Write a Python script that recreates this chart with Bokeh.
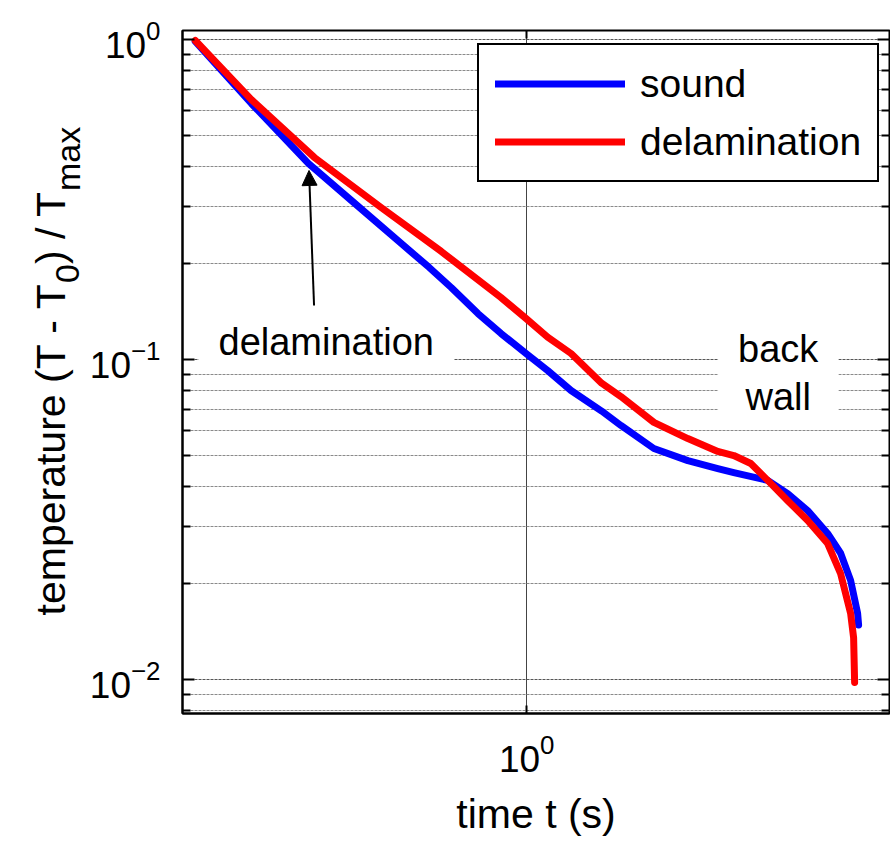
import math
from bokeh.plotting import figure
from bokeh.layouts import row
from bokeh.models import (Range1d, FixedTicker, LogTickFormatter, LogAxis, Legend,
                          LegendItem, Label, Arrow, NormalHead, CustomJSTickFormatter)
from bokeh.embed import file_html
from bokeh.resources import INLINE

# ---------------- data ----------------
sound_t = [0.148, 0.2045, 0.284, 0.364, 0.485, 0.570, 0.647, 0.755, 0.862, 0.996, 1.128,
           1.291, 1.540, 1.721, 2.081, 2.531, 3.008, 3.299, 4.011, 4.501, 5.050, 5.666, 6.106,
           6.468, 6.734, 6.773]
sound_v = [0.986, 0.631, 0.410, 0.314, 0.2305, 0.1939, 0.1679, 0.1392, 0.1206, 0.1044, 0.0924,
           0.0800, 0.0690, 0.0622, 0.0527, 0.0483, 0.0456, 0.0443, 0.0419, 0.0381, 0.0337, 0.0286,
           0.0248, 0.0204, 0.0161, 0.0148]

delam_t = [0.148, 0.2045, 0.294, 0.432, 0.611, 0.862, 0.996, 1.128, 1.291, 1.540, 1.721, 2.081,
           2.531, 3.008, 3.299, 3.638, 4.011, 4.501, 5.050, 5.666, 6.106, 6.468, 6.581, 6.619]
delam_v = [0.993, 0.649, 0.428, 0.2985, 0.2176, 0.1562, 0.1343, 0.1174, 0.1044, 0.0843, 0.0766,
           0.0636, 0.0566, 0.0516, 0.0501, 0.0473, 0.0419, 0.0362, 0.0314, 0.0266, 0.0214, 0.0161,
           0.0135, 0.00979]

series_names = ["sound", "delamination"]
x_major_ticks = [1.0]
y_major_ticks = [0.01, 0.1, 1.0]
y_minor_ticks = [0.002, 0.003, 0.004, 0.005, 0.006, 0.007, 0.008, 0.009,
                 0.02, 0.03, 0.04, 0.05, 0.06, 0.07, 0.08, 0.09,
                 0.2, 0.3, 0.4, 0.5, 0.6, 0.7, 0.8, 0.9]

# ---------------- styling ----------------
FONT = "Liberation Sans"
BLUE = "#0000ff"
RED = "#ff0000"
SIDE_W = 86

yrange = Range1d(0.007828, 1.0669)

p = figure(width=890 - SIDE_W, height=842, x_axis_type="log", y_axis_type="log",
           x_range=Range1d(0.1375, 8.093), y_range=yrange,
           output_backend="svg", toolbar_location=None,
           min_border_left=181 - SIDE_W, min_border_right=1, min_border_top=30,
           min_border_bottom=129)

p.background_fill_color = "white"
p.border_fill_color = "white"
p.outline_line_color = "black"
p.outline_line_width = 2
p.outline_line_alpha = 1.0

xticker = FixedTicker(ticks=x_major_ticks, minor_ticks=[])
yticker = FixedTicker(ticks=y_major_ticks, minor_ticks=y_minor_ticks)

# bottom axis
xa = p.xaxis[0]
xa.ticker = xticker
xa.formatter = LogTickFormatter()
xa.major_label_text_font = FONT
xa.major_label_text_font_size = "37px"
xa.major_label_text_color = "black"
xa.major_label_standoff = 20
xa.major_tick_in = 8
xa.major_tick_out = 0
xa.minor_tick_in = 0
xa.minor_tick_out = 0
xa.major_tick_line_width = 2
xa.axis_line_color = "black"
xa.axis_line_width = 2
xa.axis_label = "time t (s)"
xa.axis_label_text_font = FONT
xa.axis_label_text_font_size = "41px"
xa.axis_label_text_font_style = "normal"
xa.axis_label_text_color = "black"
xa.axis_label_standoff = 16

# left axis
ya = p.yaxis[0]
ya.ticker = yticker
ya.formatter = LogTickFormatter()
ya.major_label_text_font = FONT
ya.major_label_text_font_size = "37px"
ya.major_label_text_color = "black"
ya.major_label_standoff = 22
ya.major_tick_in = 12
ya.major_tick_out = 0
ya.minor_tick_in = 8
ya.minor_tick_out = 0
ya.major_tick_line_width = 2
ya.minor_tick_line_width = 2
ya.minor_tick_line_color = "black"
ya.axis_line_color = "black"
ya.axis_line_width = 2

# mirrored axes (ticks only, empty labels)
blank = CustomJSTickFormatter(code="return ''")
right_axis = LogAxis(ticker=yticker, formatter=blank, major_label_text_font_size="10px",
                     major_label_standoff=0,
                     major_tick_in=12, major_tick_out=0, minor_tick_in=8, minor_tick_out=0,
                     major_tick_line_width=2, minor_tick_line_width=2, axis_line_color=None)
p.add_layout(right_axis, "right")
top_axis = LogAxis(ticker=xticker, formatter=blank, major_label_text_font_size="10px",
                   major_label_standoff=0,
                   major_tick_in=8, major_tick_out=0, minor_tick_in=0, minor_tick_out=0,
                   major_tick_line_width=2, axis_line_color=None)
p.add_layout(top_axis, "above")

# grids
p.xgrid.ticker = xticker
p.xgrid.grid_line_color = "#444444"
p.xgrid.grid_line_width = 1
p.ygrid.ticker = yticker
p.ygrid.grid_line_color = "#555555"
p.ygrid.grid_line_dash = "3 1"
p.ygrid.grid_line_width = 1
p.ygrid.minor_grid_line_color = "#8a8a8a"
p.ygrid.minor_grid_line_dash = "3 1"
p.ygrid.minor_grid_line_width = 1

# curves
r_sound = p.line(sound_t, sound_v, line_color=BLUE, line_width=7, line_join="round", line_cap="round")
r_delam = p.line(delam_t, delam_v, line_color=RED, line_width=7, line_join="round", line_cap="round")

legend = Legend(items=[LegendItem(label=series_names[0], renderers=[r_sound]),
                       LegendItem(label=series_names[1], renderers=[r_delam])],
                location=(295, 531))
legend.label_text_font = FONT
legend.label_text_font_size = "39px"
legend.label_text_color = "black"
legend.border_line_color = "black"
legend.border_line_alpha = 1.0
legend.border_line_width = 2
legend.background_fill_color = "white"
legend.background_fill_alpha = 1.0
legend.glyph_width = 130
legend.glyph_height = 45
legend.label_height = 45
legend.label_standoff = 15
legend.spacing = 13
legend.padding = 16
legend.margin = 0
p.add_layout(legend)

# annotations
p.add_layout(Label(x=0.3149, y=0.1138, text="delamination", text_font=FONT, text_font_size="38px",
                   text_color="black", text_align="center", text_baseline="middle",
                   background_fill_color="white", background_fill_alpha=1.0,
                   padding=dict(left=20, right=20, top=1, bottom=1)))
p.add_layout(Label(x=4.261, y=0.0908, text="back\nwall", text_font=FONT, text_font_size="38px",
                   text_color="black", text_align="center", text_baseline="middle",
                   text_line_height=1.16,
                   background_fill_color="white", background_fill_alpha=1.0,
                   padding=dict(left=20, right=20, top=1, bottom=1)))
p.add_layout(Arrow(end=NormalHead(size=15, fill_color="black", line_color="black"),
                   x_start=0.2935, y_start=0.1475, x_end=0.2851, y_end=0.3897,
                   line_color="black", line_width=2))

# ---------------- y-axis title (with subscripts) in a narrow side figure ----------------
# shares the main y scale (frames of a row are aligned), x in pixels
side = figure(width=SIDE_W, height=842, x_range=Range1d(0, SIDE_W), y_range=yrange,
              y_axis_type="log", x_axis_location=None, y_axis_location=None,
              output_backend="svg", toolbar_location=None, min_border=0,
              min_border_top=30, min_border_bottom=129)
side.outline_line_color = None
side.grid.visible = False
side.background_fill_color = "white"
side.border_fill_color = "white"

ylab_parts = [("temperature (T - T", "41px", 50, 0.01585),
              ("0", "34px", 67, 0.1735),
              (") / T", "41px", 50, 0.1988),
              ("max", "34px", 67, 0.3359)]
for txt, size, lx, ly in ylab_parts:
    side.add_layout(Label(x=lx, y=ly, text=txt,
                          text_font=FONT, text_font_size=size, text_color="black",
                          angle=math.pi / 2, text_align="left", text_baseline="alphabetic"))

layout = row(side, p, spacing=0)
open("out.html", "w").write(file_html(layout, INLINE))
